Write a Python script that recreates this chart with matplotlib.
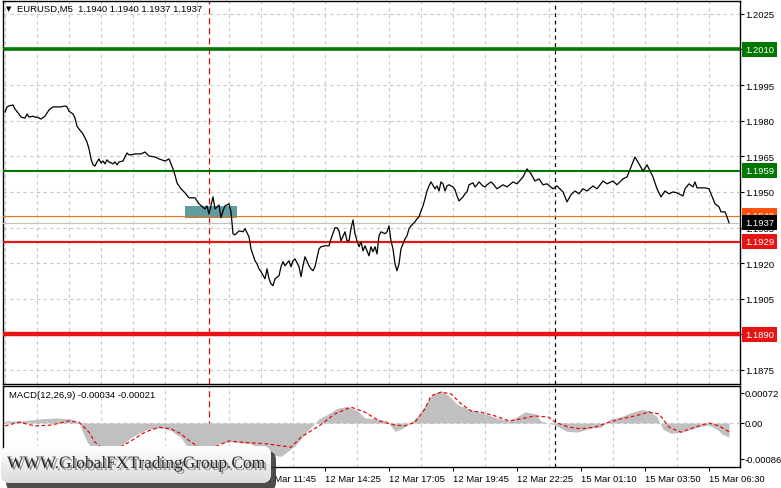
import numpy as np
import matplotlib.pyplot as plt
import matplotlib.transforms as mtransforms
import matplotlib.patheffects as pe
from matplotlib.patches import Rectangle, FancyBboxPatch

plt.rcParams['font.family'] = ['Liberation Sans Narrow', 'Liberation Sans', 'DejaVu Sans']
FS = 6.8

# EURUSD M5 closes (bar index, price)
bar_idx = [0, 1, 2, 4, 5, 7, 8, 10, 11, 12, 14, 15, 16, 18, 20, 21, 22, 24, 25, 27,
           28, 30, 31, 32, 34, 35, 36, 37, 39, 40, 41, 42, 43, 44, 45, 46, 47, 48, 49, 50,
           51, 52, 54, 55, 56, 57, 59, 60, 61, 62,
           63, 65, 68, 70, 72, 75, 77, 80, 82, 83, 84, 85, 86, 88, 90, 92, 95, 97, 100, 101,
           102, 104, 105, 107, 108, 109, 110, 112, 113, 114, 115, 117, 119, 120, 122, 123, 125, 126, 127, 128,
           130, 131, 132, 133, 134, 135, 137, 138, 139, 140, 142, 143, 144, 145, 147, 148, 149, 150, 152, 153,
           154, 155, 157, 158, 160, 162, 163, 165, 166, 167, 168, 170, 171, 172, 173, 174, 175, 176, 177, 178,
           179, 180, 182, 183, 184, 185, 186, 187, 188, 190, 191, 192, 193, 194, 195, 196, 197, 198, 200, 201,
           202, 203, 205, 206, 207, 208, 209, 210, 211, 212, 213, 215, 216, 217, 218, 219, 220, 221, 222, 224,
           225, 226, 227, 229, 230, 231, 232, 234, 235, 236, 237, 239, 240, 241, 243,
           244, 246, 249, 251, 254, 256, 259, 261, 263, 265, 267, 269, 271, 274, 276, 279, 281, 283, 285, 287,
           289, 291, 294, 296, 299, 301, 304, 306, 309, 311, 313, 315, 317, 319, 321, 324, 326, 328, 330, 332,
           334, 336, 339, 340, 342, 344, 345, 346, 348, 350, 352, 354, 355, 357, 358, 360, 361, 362]
close = [1.19836, 1.19858, 1.19862, 1.19866, 1.19849, 1.19828, 1.19815, 1.19811, 1.19828, 1.19815,
         1.19819, 1.19815, 1.19815, 1.19807, 1.19819, 1.19832, 1.19845, 1.19858, 1.19858, 1.19858,
         1.19858, 1.19862, 1.19858, 1.19840, 1.19828, 1.19811, 1.19777, 1.19765, 1.19744, 1.19727,
         1.19710, 1.19681, 1.19639, 1.19614, 1.19609, 1.19626, 1.19639, 1.19622, 1.19630, 1.19618,
         1.19635, 1.19626, 1.19618, 1.19626, 1.19614, 1.19626, 1.19630, 1.19647, 1.19664, 1.19656,
         1.19656, 1.19660, 1.19660, 1.19668, 1.19651, 1.19647, 1.19639, 1.19630, 1.19639, 1.19618,
         1.19597, 1.19571, 1.19538, 1.19513, 1.19496, 1.19475, 1.19475, 1.19450, 1.19428, 1.19441,
         1.19407, 1.19479, 1.19428, 1.19445, 1.19391, 1.19420, 1.19441, 1.19450, 1.19416, 1.19324,
         1.19319, 1.19336, 1.19332, 1.19345, 1.19311, 1.19260, 1.19210, 1.19197, 1.19176, 1.19164,
         1.19134, 1.19176, 1.19134, 1.19113, 1.19105, 1.19134, 1.19147, 1.19185, 1.19206, 1.19189,
         1.19210, 1.19185, 1.19210, 1.19218, 1.19185, 1.19143, 1.19189, 1.19227, 1.19189, 1.19176,
         1.19168, 1.19185, 1.19260, 1.19269, 1.19273, 1.19273, 1.19302, 1.19349, 1.19349, 1.19336,
         1.19294, 1.19332, 1.19294, 1.19294, 1.19345, 1.19382, 1.19324, 1.19294, 1.19269, 1.19290,
         1.19252, 1.19273, 1.19231, 1.19269, 1.19248, 1.19269, 1.19239, 1.19315, 1.19332, 1.19324,
         1.19332, 1.19357, 1.19294, 1.19260, 1.19197, 1.19168, 1.19197, 1.19260, 1.19302, 1.19315,
         1.19345, 1.19357, 1.19374, 1.19387, 1.19395, 1.19420, 1.19441, 1.19471, 1.19504, 1.19525,
         1.19542, 1.19513, 1.19525, 1.19504, 1.19542, 1.19534, 1.19504, 1.19525, 1.19530, 1.19521,
         1.19509, 1.19483, 1.19462, 1.19479, 1.19492, 1.19500, 1.19530, 1.19538, 1.19521, 1.19530,
         1.19542, 1.19525, 1.19521, 1.19530, 1.19542,
         1.19534, 1.19513, 1.19530, 1.19521, 1.19542, 1.19534, 1.19563, 1.19597, 1.19576, 1.19546,
         1.19555, 1.19530, 1.19534, 1.19513, 1.19525, 1.19500, 1.19458, 1.19488, 1.19504, 1.19492,
         1.19513, 1.19504, 1.19525, 1.19513, 1.19546, 1.19534, 1.19546, 1.19530, 1.19555, 1.19563,
         1.19605, 1.19647, 1.19618, 1.19588, 1.19614, 1.19563, 1.19513, 1.19479, 1.19504, 1.19492,
         1.19500, 1.19496, 1.19483, 1.19513, 1.19534, 1.19521, 1.19542, 1.19517, 1.19517, 1.19517,
         1.19513, 1.19471, 1.19450, 1.19437, 1.19416, 1.19416, 1.19395, 1.19370]

# MACD(12,26,9) histogram and signal
macd_idx = [0, 8, 18, 26, 33, 37, 41, 46, 53, 58, 63, 71, 78, 83, 88, 93, 98, 102, 106, 113,
            123, 131, 138, 145, 151, 157, 161, 166, 171, 176, 180, 186, 191, 195, 198, 203, 207, 211, 214, 218,
            222, 226, 231, 238, 246, 252, 256, 260, 265, 268, 275, 281, 286, 293, 298, 303, 308, 313, 318, 322,
            326, 329, 333, 338, 343, 348, 352, 356, 359, 362]
macd_hist = [0.00005, 0.00005, 0.00010, 0.00012, 0.00010, 0.0, -0.00045, -0.00075, -0.00080, -0.00055,
             -0.00035, -0.00015, -0.00012, -0.00018, -0.00035, -0.00070, -0.00090, -0.00070, -0.00050, -0.00045,
             -0.00050, -0.00075, -0.00080, -0.00055, -0.00020, 0.00010, 0.00020, 0.00035, 0.00040, 0.00030,
             0.00012, 0.00010, 0.00005, -0.00020, -0.00015, 0.00002, 0.00020, 0.00050, 0.00070, 0.00077,
             0.00065, 0.00045, 0.00035, 0.00025, 0.00012, 0.00005, 0.00015, 0.00027, 0.00022, 0.00005,
             -0.00005, -0.00020, -0.00022, -0.00012, -0.00010, 0.00010, 0.00015, 0.00025, 0.00032, 0.00030,
             0.00015, -0.00015, -0.00025, -0.00022, -0.00015, -0.00008, -0.00005, -0.00015, -0.00028, -0.00034]
sig_idx = [0, 7, 15, 23, 32, 37, 42, 45, 51, 57, 63, 70, 77, 83, 88, 93, 98, 106, 112, 118,
           131, 143, 148, 157, 165, 173, 180, 187, 195, 200, 205, 210, 213, 218, 223, 228, 233, 238, 245, 252,
           258, 265, 272, 275, 282, 288, 295, 302, 308, 315, 322, 327, 332, 338, 345, 352, 357, 362]
macd_signal = [-0.00007, 0.00002, -0.00007, -0.00005, 0.00005, 0.00002, -0.00022, -0.00046, -0.00070, -0.00060,
               -0.00043, -0.00022, -0.00010, -0.00014, -0.00026, -0.00046, -0.00060, -0.00055, -0.00043, -0.00046,
               -0.00050, -0.00058, -0.00034, -0.00007, 0.00022, 0.00038, 0.00026, 0.00005, -0.00005, -0.00007,
               0.00002, 0.00034, 0.00065, 0.00074, 0.00070, 0.00046, 0.00029, 0.00026, 0.00017, 0.00005,
               0.00010, 0.00017, 0.00014, 0.00002, -0.00010, -0.00014, -0.00010, 0.00002, 0.00010, 0.00017,
               0.00026, 0.00022, -0.00010, -0.00022, -0.00010, 0.00000, -0.00007, -0.00021]

price_ticks = [1.2025, 1.2010, 1.1995, 1.1980, 1.1965, 1.1950, 1.1935, 1.1920, 1.1905, 1.1890, 1.1875]
time_ticks = [0, 32, 64, 96, 128, 160, 192, 224, 256, 288, 320, 352]
time_labels = ['12 Mar 01:05', '12 Mar 03:45', '12 Mar 06:25', '12 Mar 09:05', '12 Mar 11:45',
               '12 Mar 14:25', '12 Mar 17:05', '12 Mar 19:45', '12 Mar 22:25', '15 Mar 01:10',
               '15 Mar 03:50', '15 Mar 06:30']

levels = [1.2010, 1.1959, 1.1940, 1.1937, 1.1929, 1.1890]
level_colors = ['#007800', '#007800', '#E8701A', '#C0C0C0', '#E81414', '#E81414']
level_widths = [2.6, 1.5, 0.8, 0.8, 1.6, 3.2]
label_bg = ['#007800', '#007800', '#FF5010', '#000000', '#E81414', '#E81414']

zone = (90, 116, 1.19391, 1.19441)   # bars from/to, price low/high
red_vline = 102
day_sep = 275

W, H = 781, 489
fig = plt.figure(figsize=(W / 100, H / 100), dpi=100)
ax = fig.add_axes([3 / W, 1 - 385 / H, 737 / W, 383 / H])
ax2 = fig.add_axes([3 / W, 1 - 468 / H, 737 / W, 81 / H])

grid_kw = dict(color='#C8C8C8', linestyle=(0, (3, 3)), linewidth=0.8)

for a in (ax, ax2):
    a.set_xlim(-1, 367.5)
    for s in a.spines.values():
        s.set_color('black')
        s.set_linewidth(1.0)
    a.yaxis.tick_right()
    a.tick_params(axis='y', direction='out', length=3, width=0.8, labelsize=FS, pad=1)
    a.set_xticks(np.arange(0, 368, 16), minor=True)
    a.grid(True, which='minor', axis='x', **grid_kw)
    a.axvline(red_vline, color='#D01010', linestyle=(0, (5, 3)), linewidth=0.9, zorder=2)
    a.axvline(day_sep, color='black', linestyle=(0, (3, 3)), linewidth=0.9, zorder=2)

# main price panel
ax.set_ylim(1.18691, 1.20304)
ax.set_yticks(price_ticks)
ax.set_yticklabels(['%.4f' % p for p in price_ticks])
ax.set_xticks([])
ax.tick_params(axis='x', which='minor', length=0)
ax.grid(True, which='major', axis='y', **grid_kw)

ax.add_patch(Rectangle((zone[0], zone[2]), zone[1] - zone[0], zone[3] - zone[2],
                       facecolor='#5F9CA3', edgecolor='none', zorder=3))
for lv, c, lw in zip(levels, level_colors, level_widths):
    ax.axhline(lv, color=c, linewidth=lw, zorder=4)
ax.plot(bar_idx, close, color='black', linewidth=0.9, zorder=5)

blend = mtransforms.blended_transform_factory(ax.transAxes, ax.transData)
for lv, bg in zip(levels, label_bg):
    ax.annotate('%.4f' % lv, xy=(1.0, lv), xycoords=blend, xytext=(5, 0),
                textcoords='offset pixels', ha='left', va='center', fontsize=FS,
                color='white', annotation_clip=False, zorder=10,
                bbox=dict(boxstyle='square,pad=0.3', fc=bg, ec='none'))

fig.text(17 / W, 1 - 9 / H, 'EURUSD,M5  1.1940 1.1940 1.1937 1.1937', fontsize=FS,
         va='center', ha='left')
fig.text(6 / W, 1 - 9 / H, '\u25bc', fontsize=5, va='center', ha='left',
         family='DejaVu Sans')

# MACD panel
ax2.set_ylim(-0.001056, 0.000888)
ax2.set_yticks([0.00072, 0.0, -0.00086])
ax2.set_yticklabels(['0.00072', '0.00', '-0.00086'])
ax2.tick_params(axis='y', pad=0.5)
ax2.set_xticks(time_ticks)
ax2.set_xticklabels(time_labels, ha='left')
ax2.tick_params(axis='x', direction='out', length=3, width=0.8, labelsize=FS, pad=2)
ax2.tick_params(axis='x', which='minor', length=0)
ax2.axhline(0, **grid_kw)
ax2.fill_between(macd_idx, 0, macd_hist, color='#C0C0C0', linewidth=0, zorder=3)
ax2.plot(sig_idx, macd_signal, color='#E01010', linestyle=(0, (3, 2)), linewidth=0.9, zorder=4)
ax2.text(6 / 737, 1 - 9 / 81, 'MACD(12,26,9) -0.00034 -0.00021', transform=ax2.transAxes,
         fontsize=FS, va='center', ha='left')

# watermark overlay in pixel coordinates
ov = fig.add_axes([0, 0, 1, 1])
ov.set_xlim(0, W)
ov.set_ylim(H, 0)
ov.axis('off')
ov.add_patch(FancyBboxPatch((6, 452), 270, 40, boxstyle='round,pad=0,rounding_size=9',
                            facecolor='#2E2E2E', edgecolor='none', alpha=0.85, zorder=1))
box = FancyBboxPatch((1, 447), 270, 37, boxstyle='round,pad=0,rounding_size=9',
                     facecolor='#EDEDED', edgecolor='none', zorder=2)
ov.add_patch(box)
grad = np.linspace(1.0, 0.86, 64).reshape(-1, 1)
im = ov.imshow(grad, cmap='gray', vmin=0, vmax=1, extent=(1, 271, 484, 447),
               aspect='auto', zorder=3)
im.set_clip_path(box)
ov.text(136, 465, 'WWW.GlobalFXTradingGroup.Com', family='Liberation Serif', fontsize=12.5,
        color='#2B2B2B', ha='center', va='center', zorder=5,
        path_effects=[pe.withSimplePatchShadow(offset=(1.5, -1.5), shadow_rgbFace='#7A7A7A', alpha=0.8)])

fig.savefig('out.png', dpi=100, facecolor='white')
